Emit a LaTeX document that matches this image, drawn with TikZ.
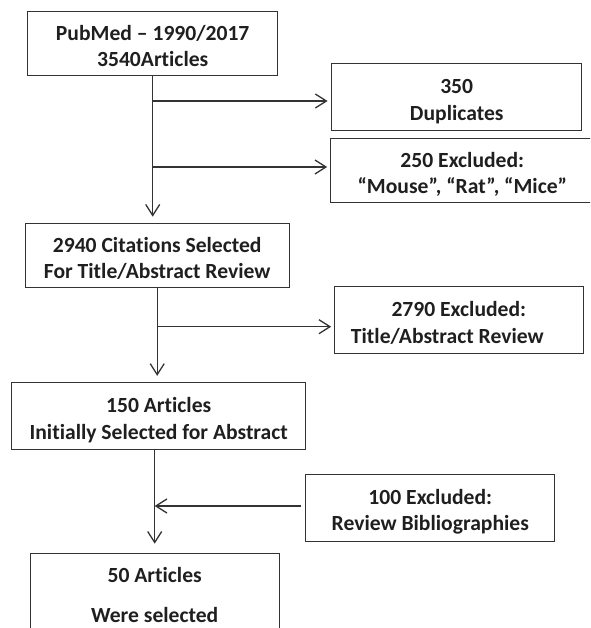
\documentclass[tikz,border=0pt]{standalone}
\usepackage{fontspec}
\setmainfont{Carlito}[Ligatures={TeX,NoCommon}]
\usetikzlibrary{positioning, arrows.meta}
\definecolor{box-gray}{rgb}{0.2, 0.2, 0.2}
\definecolor{text-gray}{rgb}{0.12, 0.12, 0.12}

\begin{document}
\begin{tikzpicture}[x=1pt, y=-1pt]
				\tikzset{stage/.style={rectangle, draw=box-gray, line width=1.3pt, text=text-gray, align=center, inner sep=0pt, text height=52.5pt, text depth=6pt, font=\bfseries\fontsize{21.6}{26.5}\selectfont}}
				\tikzset{arr/.style={-{Straight Barb[length=11pt, width=14pt]}, line width=1.3pt, draw=box-gray}}
				
				\useasboundingbox (0,0) rectangle (590,628);
				\clip (0,0) rectangle (590,628);
				
				\node[stage, minimum width=250, minimum height=64] at (152.7,43.7) (pubmed) {PubMed – 1990/2017\\3540Articles};
				\node[stage, minimum width=250, minimum height=67] at (456.7,97) (dupl) {350\\Duplicates};
				\node[stage, minimum width=263, minimum height=64] at (462.3,170.5) (mice) {250 Excluded:\\“Mouse”, “Rat”, “Mice”};
				\node[stage, minimum width=264, minimum height=64] at (157.2,255.3) (cited) {2940 Citations Selected\\For Title/Abstract Review};
				\node[stage, minimum width=249, minimum height=67] at (458.8,320) (title) {2790 Excluded:\\Title/Abstract Review\hspace*{23pt}};
				\node[stage, minimum width=294, minimum height=67] at (158.7,416) (initial) {150 Articles\\Initially Selected for Abstract};
				\node[stage, minimum width=249, minimum height=67] at (430.3,507.7) (biblio) {100 Excluded:\\Review Bibliographies};
				\node[stage, minimum width=249, anchor=north, inner ysep=16.3pt, text depth=60pt] at (154.7,552.7) (final) {50 Articles\\[13.5pt]Were selected};
				
				% PubMed -> citations
				\draw[arr, shorten >=6pt] (pubmed.south) -- (pubmed |- cited.north);
				\draw[arr, shorten >=3.5pt] (pubmed |- dupl.west) ++(0,4) -- ([yshift=-4pt]dupl.west);
				\draw[arr, shorten >=3pt] (pubmed |- mice.west) ++(0,-3.5) -- ([yshift=3.5pt]mice.west);
				
				% citations -> initial
				\draw[arr, shorten >=6pt] (cited.south) -- (cited |- initial.north);
				\draw[arr, shorten >=2.5pt] (cited |- title.west) ++(0,6.7) -- ([yshift=-6.7pt]title.west);
				
				% initial -> final
				\draw[arr, shorten >=9pt] (initial.south -| final) -- (final.north);
				\draw[arr, shorten <=4pt] ([yshift=1.7pt]biblio.west) -- ([yshift=1.7pt]biblio.west -| final);
\end{tikzpicture}
\end{document}
